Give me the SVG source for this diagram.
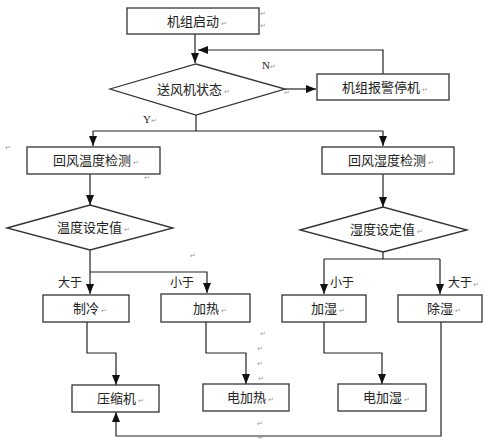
<svg xmlns="http://www.w3.org/2000/svg" width="500" height="445" viewBox="0 0 500 445">
<defs>
<marker id="ah" markerWidth="10" markerHeight="10" viewBox="0 0 10 10" refX="10" refY="5" orient="auto" markerUnits="userSpaceOnUse">
<path d="M0,1 L10,5 L0,9 Z" fill="#111"/>
</marker>
</defs>
<style>
.box{fill:#fff;stroke:#333;stroke-width:1.3}
.t{font-family:"Noto Sans CJK SC","Noto Sans",sans-serif;font-size:13px;fill:#222}
.l{font-family:"Noto Sans CJK SC","Noto Sans",sans-serif;font-size:12px;fill:#222}
.s{font-family:"Liberation Serif",serif;font-size:11px;fill:#222}
.r{font-family:"DejaVu Sans",sans-serif;font-size:7px;fill:#999}
.c{fill:none;stroke:#222;stroke-width:1.2}
</style>
<rect width="500" height="445" fill="#fff"/>
<g id="connectors">
<path class="c" d="M195,34 V63" marker-end="url(#ah)"/>
<path class="c" d="M383,74 V50 H198" marker-end="url(#ah)"/>
<path class="c" d="M285,89 H316" marker-end="url(#ah)"/>
<path class="c" d="M196,115 V131"/>
<path class="c" d="M93,131 H383"/>
<path class="c" d="M93,131 V146" marker-end="url(#ah)"/>
<path class="c" d="M383,131 V146" marker-end="url(#ah)"/>
<path class="c" d="M90,174 V205" marker-end="url(#ah)"/>
<path class="c" d="M383,174 V207" marker-end="url(#ah)"/>
<path class="c" d="M90,250 V294" marker-end="url(#ah)"/>
<path class="c" d="M90,272 H207 V293" marker-end="url(#ah)"/>
<path class="c" d="M383,252 V259"/>
<path class="c" d="M324,259 H440"/>
<path class="c" d="M324,259 V294" marker-end="url(#ah)"/>
<path class="c" d="M440,259 V294" marker-end="url(#ah)"/>
<path class="c" d="M87,322 V353 H116 V385" marker-end="url(#ah)"/>
<path class="c" d="M206,322 V353 H246 V384" marker-end="url(#ah)"/>
<path class="c" d="M324,322 V353 H382 V384" marker-end="url(#ah)"/>
<path class="c" d="M441,322 V436 H116 V412" marker-end="url(#ah)"/>
</g>
<g id="start"><rect class="box" x="127" y="8" width="132" height="26"/><text class="t" x="167" y="26">机组启动<tspan class="r" dx="2">↵</tspan></text></g>
<g id="fan"><polygon class="box" points="110,89 196,64 285,89 196,115"/><text class="t" x="157" y="94">送风机状态<tspan class="r" dx="2">↵</tspan></text></g>
<g id="alarm"><rect class="box" x="317" y="74" width="132" height="26"/><text class="t" x="342" y="92">机组报警停机<tspan class="r" dx="2">↵</tspan></text></g>
<g id="tdetect"><rect class="box" x="27" y="147" width="133" height="27"/><text class="t" x="53" y="165">回风温度检测<tspan class="r" dx="2">↵</tspan></text></g>
<g id="hdetect"><rect class="box" x="322" y="147" width="132" height="27"/><text class="t" x="348" y="165">回风湿度检测<tspan class="r" dx="2">↵</tspan></text></g>
<g id="tset"><polygon class="box" points="7,228 90,205 173,228 90,250"/><text class="t" x="57" y="232">温度设定值<tspan class="r" dx="2">↵</tspan></text></g>
<g id="hset"><polygon class="box" points="300,230 383,207 467,230 383,252"/><text class="t" x="350" y="234">湿度设定值<tspan class="r" dx="2">↵</tspan></text></g>
<g id="cool"><rect class="box" x="43" y="295" width="86" height="27"/><text class="t" x="73" y="313">制冷<tspan class="r" dx="2">↵</tspan></text></g>
<g id="heat"><rect class="box" x="161" y="294" width="89" height="28"/><text class="t" x="193" y="313">加热<tspan class="r" dx="2">↵</tspan></text></g>
<g id="humid"><rect class="box" x="282" y="295" width="84" height="27"/><text class="t" x="311" y="313">加湿<tspan class="r" dx="2">↵</tspan></text></g>
<g id="dehumid"><rect class="box" x="398" y="295" width="84" height="27"/><text class="t" x="427" y="313">除湿<tspan class="r" dx="2">↵</tspan></text></g>
<g id="comp"><rect class="box" x="72" y="385" width="87" height="27"/><text class="t" x="97" y="403">压缩机<tspan class="r" dx="2">↵</tspan></text></g>
<g id="eheat"><rect class="box" x="203" y="384" width="86" height="27"/><text class="t" x="227" y="402">电加热<tspan class="r" dx="2">↵</tspan></text></g>
<g id="ehumid"><rect class="box" x="338" y="384" width="88" height="27"/><text class="t" x="363" y="402">电加湿<tspan class="r" dx="2">↵</tspan></text></g>
<g id="labels">
<text class="s" x="143" y="123">Y<tspan class="r">↵</tspan></text>
<text class="s" x="262" y="69">N<tspan class="r">↵</tspan></text>
<text class="l" x="58" y="287">大于</text>
<text class="l" x="170" y="287">小于</text>
<text class="l" x="330" y="287">小于</text>
<text class="l" x="448" y="287">大于<tspan class="r" dx="1">↵</tspan></text>
<text class="r" x="260" y="16">↵</text>
<text class="r" x="260" y="28">↵</text>
<text class="r" x="284" y="95">↵</text>
<text class="r" x="5" y="150">↵</text>
<text class="r" x="144" y="180">↵</text>
<text class="r" x="190" y="258">↵</text>
<text class="r" x="260" y="336">↵</text>
<text class="r" x="257" y="351">↵</text>
<text class="r" x="257" y="366">↵</text>
<text class="r" x="258" y="381">↵</text>
<text class="r" x="257" y="426">↵</text>
<text class="r" x="258" y="440">↵</text>
</g>
</svg>
